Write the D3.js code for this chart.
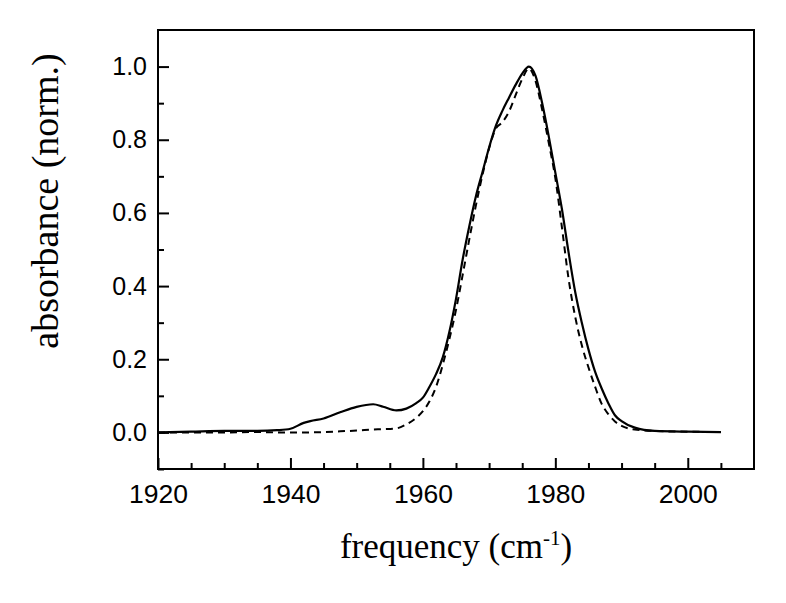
<!DOCTYPE html>
<html>
<head>
<meta charset="utf-8">
<script src="https://cdn.jsdelivr.net/npm/d3@7"></script>
<style>
  html, body { margin: 0; padding: 0; background: #fff; }
  svg { display: block; }
</style>
</head>
<body>
<svg id="chart" width="786" height="603"></svg>
<script>
// ---- data ----
const freq = [1920,1925,1930,1935,1938,1940,1942,1943,1945,1947.5,1950,1952.5,1954,1956,1957.5,1959,1960,1961,1962,1963,1964,1965,1966,1967,1968,1969,1970,1971,1972,1973,1974,1975,1976,1977,1978,1979,1980,1981,1982,1983,1984,1985,1986,1987,1988,1989,1990,1992,1995,2000,2005];
const solidAbs = [0.0,0.002,0.004,0.004,0.006,0.010,0.026,0.031,0.038,0.055,0.070,0.077,0.070,0.060,0.065,0.080,0.095,0.125,0.160,0.205,0.275,0.365,0.472,0.563,0.645,0.712,0.779,0.837,0.879,0.915,0.950,0.981,1.0,0.975,0.901,0.810,0.710,0.610,0.492,0.384,0.300,0.227,0.166,0.120,0.080,0.047,0.031,0.013,0.004,0.002,0.001];
const dashedAbs = [0.0,0.0,0.0,0.001,0.0,0.0,0.0,0.0,0.001,0.003,0.005,0.008,0.009,0.011,0.022,0.040,0.058,0.085,0.125,0.185,0.255,0.335,0.430,0.527,0.620,0.704,0.777,0.830,0.848,0.877,0.922,0.966,0.995,0.961,0.883,0.792,0.695,0.560,0.420,0.316,0.238,0.178,0.125,0.078,0.050,0.030,0.018,0.008,0.004,0.002,0.001];
const xMajorTicks = [1920,1940,1960,1980,2000];
const xMinorTicks = [1925,1930,1935,1945,1950,1955,1965,1970,1975,1985,1990,1995,2005];
const yMajorTicks = [0.0,0.2,0.4,0.6,0.8,1.0];
const yMinorTicks = [-0.1,0.1,0.3,0.5,0.7,0.9];
const xTitle = "frequency (cm";
const xTitleSup = "-1";
const yTitle = "absorbance (norm.)";

// ---- layout ----
const svg = d3.select("#chart");
const L = 158, R = 754, T = 30, B = 469;
const x = d3.scaleLinear().domain([1920, 2010]).range([L, R]);
const y = d3.scaleLinear().domain([-0.1, 1.1]).range([B, T]);

const tickFont = "'Liberation Sans', Arial, sans-serif";
const titleFont = "'Liberation Serif', 'Times New Roman', serif";

// minor ticks
svg.append("g").attr("transform", `translate(0,${B})`)
  .call(d3.axisBottom(x).tickValues(xMinorTicks).tickSize(-6).tickFormat(""))
  .call(g => g.select(".domain").remove())
  .call(g => g.selectAll("line").attr("stroke", "#000").attr("stroke-width", 2));
svg.append("g").attr("transform", `translate(${L},0)`)
  .call(d3.axisLeft(y).tickValues(yMinorTicks).tickSize(-6).tickFormat(""))
  .call(g => g.select(".domain").remove())
  .call(g => g.selectAll("line").attr("stroke", "#000").attr("stroke-width", 2));

// major ticks + labels
svg.append("g").attr("transform", `translate(0,${B})`)
  .call(d3.axisBottom(x).tickValues(xMajorTicks).tickSize(-11).tickPadding(15).tickFormat(d3.format("d")))
  .call(g => g.select(".domain").remove())
  .call(g => g.selectAll("line").attr("stroke", "#000").attr("stroke-width", 2))
  .call(g => g.selectAll("text").attr("fill", "#000").style("font-family", tickFont).style("font-size", "26.5px"));
svg.append("g").attr("transform", `translate(${L},0)`)
  .call(d3.axisLeft(y).tickValues(yMajorTicks).tickSize(-11).tickPadding(11).tickFormat(d3.format(".1f")))
  .call(g => g.select(".domain").remove())
  .call(g => g.selectAll("line").attr("stroke", "#000").attr("stroke-width", 2))
  .call(g => g.selectAll("text").attr("fill", "#000").style("font-family", tickFont).style("font-size", "25px"));

// frame
svg.append("rect").attr("x", L).attr("y", T).attr("width", R - L).attr("height", B - T)
  .attr("fill", "none").attr("stroke", "#000").attr("stroke-width", 2);

// lines
const clipId = "plotclip";
svg.append("clipPath").attr("id", clipId).append("rect")
  .attr("x", L).attr("y", T).attr("width", R - L).attr("height", B - T);

const line = d3.line().x(d => x(d[0])).y(d => y(d[1])).curve(d3.curveMonotoneX);
const g = svg.append("g").attr("clip-path", `url(#${clipId})`);
g.append("path").datum(freq.map((f, i) => [f, dashedAbs[i]]))
  .attr("d", line).attr("fill", "none").attr("stroke", "#000")
  .attr("stroke-width", 2).attr("stroke-dasharray", "7,5");
g.append("path").datum(freq.map((f, i) => [f, solidAbs[i]]))
  .attr("d", line).attr("fill", "none").attr("stroke", "#000")
  .attr("stroke-width", 2.2);

// titles
const xt = svg.append("text").attr("x", (L + R) / 2).attr("y", 558)
  .attr("text-anchor", "middle").attr("fill", "#000")
  .style("font-family", titleFont).style("font-size", "35px");
xt.append("tspan").text(xTitle);
xt.append("tspan").attr("dy", "-13").style("font-size", "21px").text(xTitleSup);
xt.append("tspan").attr("dy", "13").text(")");

svg.append("text").attr("transform", `translate(58,201) rotate(-90)`)
  .attr("text-anchor", "middle").attr("fill", "#000")
  .style("font-family", titleFont).style("font-size", "38px")
  .text(yTitle);
</script>
</body>
</html>
